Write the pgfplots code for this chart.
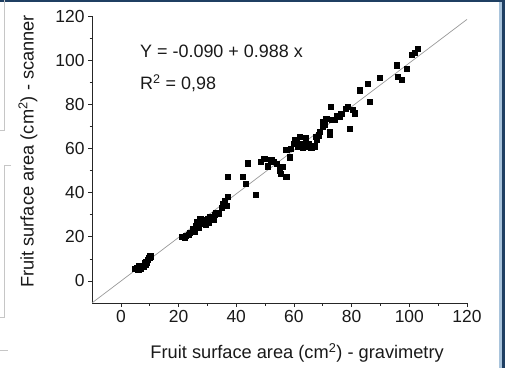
\documentclass[border=0pt]{standalone}
\usepackage{pgfplots}
\pgfplotsset{compat=1.18}
\usepackage{fontspec}
\setmainfont{Liberation Sans}
\definecolor{bordblue}{HTML}{1F3F62}
\definecolor{lightblue}{HTML}{A9C4DC}
\begin{document}
\begin{tikzpicture}[x=1bp,y=1bp]
\path[use as bounding box] (0,0) rectangle (505,368);
% page decorations
\fill[bordblue] (0,365.5) rectangle (505,368);
\fill[lightblue] (499,0) rectangle (502,366);
\fill[bordblue] (502,0) rectangle (505,368);
\draw[gray!45,line width=0.7pt] (4.5,368) -- (4.5,238) -- (0,238);
\draw[gray!45,line width=0.7pt] (11,203) -- (4.5,203) -- (4.5,51) -- (0,51);
\draw[gray!45,line width=0.7pt] (0,18) -- (8,18);
\begin{axis}[
  at={(92bp,65bp)}, anchor=south west,
  scale only axis, width=375bp, height=287bp,
  xmin=-10, xmax=120, ymin=-10, ymax=120,
  axis lines=left, axis line style={-, line width=0.8pt, black!85},
  xtick={0,20,...,120}, ytick={0,20,...,120},
  minor tick num=1,
  tick align=outside,
  major tick length=4bp, minor tick length=2.5bp,
  tick style={line width=0.7pt, black!85},
  ticklabel style={font=\fontsize{17.5}{18}\selectfont, text=black!90},
  /pgf/number format/assume math mode=true,
  xlabel={Fruit surface area (cm\textsuperscript{2}) - gravimetry},
  ylabel={Fruit surface area (cm\textsuperscript{2}) - scanner},
  label style={font=\fontsize{18.3}{20}\selectfont, text=black!90},
  xlabel style={at={(axis description cs:0.547,-0.174)}, anchor=center},
  ylabel style={at={(axis description cs:-0.171,0.528)}, anchor=center, rotate=0},
  clip=false,
]
\addplot[gray!80, line width=0.7pt] coordinates {(-10,-9.97) (120,118.47)};
\addplot[only marks, mark=square*, mark size=2.6bp, black, mark options={fill=black}] coordinates {
(5.0,5.5)(5.5,6.0)(6.0,5.0)(6.2,6.8)(6.8,6.0)(7.2,7.0)(7.8,6.5)(8.2,8.0)(8.8,8.5)(9.2,9.5)(9.8,10.5)(10.2,11.2)(7.0,5.5)(8.5,7.2)
(21,20)(22,19.5)(22.5,20.5)(23.5,21)(24,22)(25,23.5)(25.5,22.5)(26,25)(26.5,27)(27,24)(27.5,28)(28,26)(29,27.5)(29.5,25.5)(30,28)(30.5,26.5)(31,29)(32,28)(32.5,30)(33,31)(34,30.5)(35,33)(35.5,35)(36,36.5)(37,38)(36.5,34)
(37,47.2)(42.2,47.2)(43.4,44.2)(43.9,53.3)(46.8,38.9)(48.6,54)(49.7,55.5)(52.1,54.8)(55,50.2)(57.3,47.2)(55.5,48.7)(56.1,51.7)(57.3,59.3)(51,52)(53,54)(54,53)
(58.5,56)(59,60)(60,62)(60.2,63.8)(61,63)(61.5,61)(61.9,65.3)(62.5,62)(63,60.5)(63.7,62.3)(64,65)(64.5,61)(65,62)(66,60.5)(66.5,60.8)(67,61)(67.7,65.3)(68,64)(68.5,66)(69,67.5)(70,69.8)(70,72)(70.5,71)(71.2,73.6)(72.3,67.6)(72.5,66.5)(73,73)(72.8,79)(74,73)(75,75)(75.8,74.3)(76.4,75.9)(78,78)(78.7,78.9)(79.3,69.1)(80.3,77.4)(81,76)
(82.8,86.4)(85.7,89.4)(86.3,81.1)(89.7,92.2)(95.5,97.7)(96.1,92.4)(97.3,91)(99,96.2)(100.8,102.3)(103,105.3)(101.8,103.5)
};
\node[anchor=west, font=\fontsize{18}{20}\selectfont, text=black!90] at (axis cs:5.5,103.8) {Y = -0.090 + 0.988 x};
\node[anchor=west, font=\fontsize{18}{20}\selectfont, text=black!90] at (axis cs:5.5,89.6) {R\textsuperscript{2} = 0,98};
\end{axis}
\end{tikzpicture}
\end{document}
